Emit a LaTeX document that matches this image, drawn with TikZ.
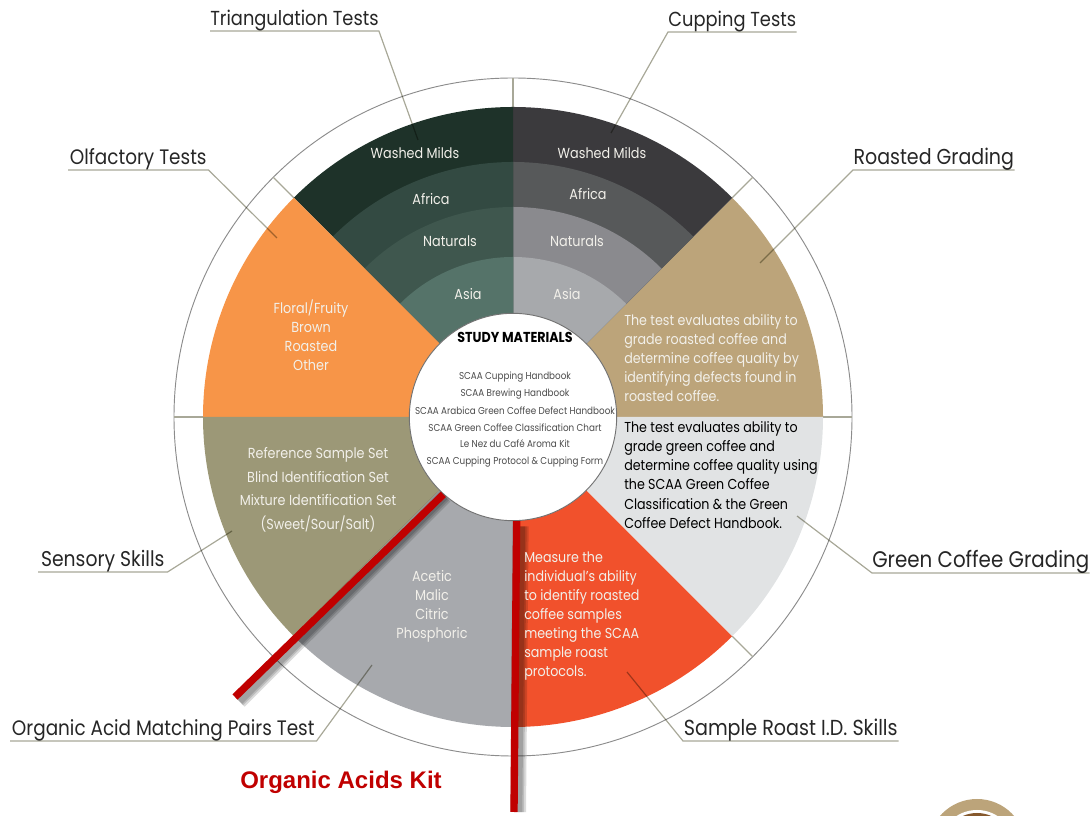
\documentclass[tikz,border=0pt]{standalone}
\usepackage{xcolor}
\usepackage{fontspec}
\setmainfont[FakeStretch=0.88]{Poppins}
\newfontfamily\kitfont{Liberation Sans}
\usetikzlibrary{positioning}
\definecolor{washa}{HTML}{1E3229}
\definecolor{washb}{HTML}{334A42}
\definecolor{washc}{HTML}{3F574E}
\definecolor{washd}{HTML}{557369}
\definecolor{cupa}{HTML}{3B3A3D}
\definecolor{cupb}{HTML}{57595A}
\definecolor{cupc}{HTML}{8A8A8E}
\definecolor{cupd}{HTML}{A7A9AC}
\definecolor{olfc}{HTML}{F79548}
\definecolor{rstc}{HTML}{BCA47A}
\definecolor{grnc}{HTML}{E1E3E4}
\definecolor{smpc}{HTML}{F1512C}
\definecolor{oapc}{HTML}{A7A9AD}
\definecolor{senc}{HTML}{9C9877}
\definecolor{kitc}{HTML}{C00000}
\definecolor{leadc}{HTML}{A8A898}
\definecolor{softw}{HTML}{F2F0EA}
\tikzset{
	lbl/.style={inner sep=0, minimum width=#1*0.75pt, text height=15pt, text depth=4pt, font=\fontsize{15.7}{18}\selectfont, text=black!85},
	lead/.style={leadc, line width=0.9pt, blend mode=multiply},
	tickline/.style={leadc, line width=0.9pt},
	ringline/.style={black!45, line width=0.7pt},
	bandtext/.style={inner sep=0, text=softw, font=\fontsize{10.9}{12}\selectfont},
	listtext/.style={inner sep=0, align=center, text=softw, font=\fontsize{10.9}{#1}\selectfont},
	paratext/.style={inner sep=0, anchor=west, align=left, text=softw, font=\fontsize{10.8}{14.3}\selectfont},
	booktext/.style={inner sep=0, text=black!70, font=\fontsize{7.5}{9}\selectfont},
	rod/.style={kitc, line width=5.5pt},
	rodback/.style={black, opacity=0.14}
}
\begin{document}
\begin{tikzpicture}[x=0.75pt,y=0.75pt]
	\useasboundingbox (0,0) rectangle (1091,816);
	\coordinate (c) at (513,399);
	\draw[ringline] (c) circle (339);
	\draw[tickline] (c) ++(0:310) -- ++(0:29);
	\draw[tickline] (c) ++(45:310) -- ++(45:29);
	\draw[tickline] (c) ++(90:310) -- ++(90:29);
	\draw[tickline] (c) ++(135:310) -- ++(135:29);
	\draw[tickline] (c) ++(180:310) -- ++(180:29);
	\draw[tickline] (c) ++(225:310) -- ++(225:29);
	\draw[tickline] (c) ++(270:310) -- ++(270:29);
	\draw[tickline] (c) ++(315:310) -- ++(315:29);
	\fill[rstc] (c) -- ++(0:310) arc (0:45:310) -- cycle;
	\fill[cupa] (c) -- ++(45:310) arc (45:90:310) -- cycle;
	\fill[cupb] (c) -- ++(45:255) arc (45:90:255) -- cycle;
	\fill[cupc] (c) -- ++(45:210) arc (45:90:210) -- cycle;
	\fill[cupd] (c) -- ++(45:160) arc (45:90:160) -- cycle;
	\fill[washa] (c) -- ++(90:310) arc (90:135:310) -- cycle;
	\fill[washb] (c) -- ++(90:255) arc (90:135:255) -- cycle;
	\fill[washc] (c) -- ++(90:210) arc (90:135:210) -- cycle;
	\fill[washd] (c) -- ++(90:160) arc (90:135:160) -- cycle;
	\fill[olfc] (c) -- ++(135:310) arc (135:180:310) -- cycle;
	\fill[senc] (c) -- ++(180:310) arc (180:225:310) -- cycle;
	\fill[oapc] (c) -- ++(225:310) arc (225:270:310) -- cycle;
	\fill[smpc] (c) -- ++(270:310) arc (270:315:310) -- cycle;
	\fill[grnc] (c) -- ++(315:310) arc (315:360:310) -- cycle;
	\begin{scope}
		\clip (0,0) rectangle (1091,816);
		\fill[rstc] (977,-32) circle (49);
		\fill[white] (977,-32) circle (38);
		\fill[brown!70!black] (977,-32) circle (35);
	\end{scope}
	\draw
	node[lbl=168, anchor=south west, font=\fontsize{15.2}{18}\selectfont] at (210,785) (tri) {Triangulation Tests}
	node[lbl=128, anchor=south west, font=\fontsize{15.2}{18}\selectfont] at (668,784) (cup) {Cupping Tests}
	node[lbl=140, anchor=south west] at (68,646) (olf) {Olfactory Tests}
	node[lbl=161, anchor=south west, font=\fontsize{16.2}{18}\selectfont] at (853,646) (rst) {Roasted Grading}
	node[lbl=217, anchor=south west, font=\fontsize{16.9}{18}\selectfont] at (872,243) (grn) {Green Coffee Grading}
	node[lbl=215, anchor=south west, font=\fontsize{16.3}{18}\selectfont] at (683,75) (smp) {Sample Roast I.D. Skills}
	node[lbl=306, anchor=south west] at (10,75) (oap) {Organic Acid Matching Pairs Test}
	node[lbl=129, anchor=south west, font=\fontsize{16}{18}\selectfont] at (38,244) (sen) {Sensory Skills};
	\coordinate (tripin) at (418,676);
	\coordinate (cuppin) at (611,683);
	\coordinate (olfpin) at (277,578);
	\coordinate (rstpin) at (760,553);
	\coordinate (grnpin) at (797,300);
	\coordinate (smppin) at (627,144);
	\coordinate (oappin) at (372,151);
	\coordinate (senpin) at (232,285);
	\draw[lead] (tri.south west) -- (tri.south east) -- (tripin);
	\draw[lead] (cup.south east) -- (cup.south west) -- (cuppin);
	\draw[lead] (olf.south west) -- (olf.south east) -- (olfpin);
	\draw[lead] (rst.south east) -- (rst.south west) -- (rstpin);
	\draw[lead] (grn.south east) -- (grn.south west) -- (grnpin);
	\draw[lead] (smp.south east) -- (smp.south west) -- (smppin);
	\draw[lead] (oap.south west) -- (oap.south east) -- (oappin);
	\draw[lead] (sen.south west) -- (sen.south east) -- (senpin);
	\node[circle, draw=black!55, line width=0.7pt, fill=white, minimum size=155.5pt, inner sep=0] at (c) (mat) {};
	\coordinate (rodl) at (235,119);
	\coordinate (rodr) at (514,4);
	\draw[rodback, line width=12pt] ([xshift=3,yshift=-3]mat.226) -- ([xshift=3,yshift=-3]rodl);
	\draw[rodback, line width=9pt] ([xshift=3,yshift=-3]mat.226) -- ([xshift=3,yshift=-3]rodl);
	\draw[rodback, line width=6.5pt] ([xshift=3,yshift=-3]mat.226) -- ([xshift=3,yshift=-3]rodl);
	\draw[rodback, line width=12pt] ([xshift=3,yshift=-4]mat.272) -- ([xshift=3]rodr);
	\draw[rodback, line width=9pt] ([xshift=3,yshift=-4]mat.272) -- ([xshift=3]rodr);
	\draw[rodback, line width=6.5pt] ([xshift=3,yshift=-4]mat.272) -- ([xshift=3]rodr);
	\draw[rod] (mat.228) -- (rodl);
	\draw[rod] (mat.272) -- (rodr);
	\draw
	node[inner sep=0, font=\fontsize{10.8}{12}\selectfont\bfseries] at (515,479) (head) {STUDY MATERIALS}
	node[booktext] at (515,439) (boa) {SCAA Cupping Handbook}
	node[booktext] at (515,422) (bob) {SCAA Brewing Handbook}
	node[booktext] at (515,405) (boc) {SCAA Arabica Green Coffee Defect Handbook}
	node[booktext] at (515,388) (bod) {SCAA Green Coffee Classification Chart}
	node[booktext] at (515,372) (boe) {Le Nez du Café Aroma Kit}
	node[booktext] at (515,354) (bof) {SCAA Cupping Protocol \& Cupping Form}
	node[bandtext] at (415,663) (wma) {Washed Milds}
	node[bandtext] at (431,617) (waf) {Africa}
	node[bandtext] at (450,575) (wna) {Naturals}
	node[bandtext] at (468,522) (was) {Asia}
	node[bandtext] at (602,663) (cma) {Washed Milds}
	node[bandtext] at (588,622) (caf) {Africa}
	node[bandtext] at (577,575) (cna) {Naturals}
	node[bandtext] at (567,522) (cas) {Asia}
	node[listtext=14.3] at (311,481) (olft) {Floral/Fruity\\Brown\\Roasted\\Other}
	node[listtext=17.6] at (318,326) (sent) {Reference Sample Set\\Blind Identification Set\\Mixture Identification Set\\(Sweet/Sour/Salt)}
	node[listtext=14.3] at (432,210) (oapt) {Acetic\\Malic\\Citric\\Phosphoric}
	node[paratext] at (524,200) (smpt) {Measure the\\individual's ability\\to identify roasted\\coffee samples\\meeting the SCAA\\sample roast\\protocols.}
	node[paratext] at (624,458) (rstt) {The test evaluates ability to\\grade roasted coffee and\\determine coffee quality by\\identifying defects found in\\roasted coffee.}
	node[paratext, text=black] at (624,341) (grnt) {The test evaluates ability to\\grade green coffee and\\determine coffee quality using\\the SCAA Green Coffee\\Classification \& the Green\\Coffee Defect Handbook.}
	node[inner sep=0, text=kitc, font=\fontsize{18}{20}\selectfont\kitfont\bfseries] at (341,34) (kit) {Organic Acids Kit};
\end{tikzpicture}
\end{document}
